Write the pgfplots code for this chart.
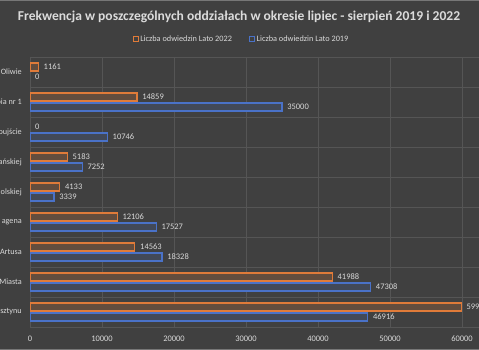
\documentclass[border=0pt]{standalone}
\usepackage{pgfplots}
\pgfplotsset{compat=1.18}
\usepackage{fontspec}
\setmainfont{Carlito}
\definecolor{bg}{HTML}{404040}
\definecolor{gridc}{HTML}{555555}
\definecolor{txt}{HTML}{D9D9D9}
\definecolor{orc}{HTML}{E07B39}
\definecolor{blc}{HTML}{4A72C8}
\begin{document}
\begin{tikzpicture}
\useasboundingbox (-30bp,-23bp) rectangle (449bp,327bp);
\fill[bg] (-30bp,-23bp) rectangle (449bp,327bp);
\draw[gridc!80!white, line width=0.8pt] (-30bp,326.6bp) -- (449bp,326.6bp);
\draw[gridc!80!white, line width=0.8pt] (-30bp,-22.6bp) -- (449bp,-22.6bp);
\clip (-30bp,-23bp) rectangle (449bp,327bp);
\node[font=\bfseries\fontsize{13.6}{15}\selectfont, text=txt!95!white] at (209bp,310bp) {Frekwencja w poszczególnych oddziałach w okresie lipiec - sierpień 2019 i 2022};
\begin{axis}[
  scale only axis, width=504bp, height=270bp,
  xbar, bar width=8bp,
  xmin=0, xmax=70000,
  ymin=-0.5, ymax=8.5, y dir=reverse,
  ytick={0,...,8},
  yticklabels={Oliwie, bia nr 1, oujście, ańskiej, olskiej, agena, Artusa, Miasta, sztynu},
  minor ytick={-0.5,0.5,...,8.5},
  yminorgrids=true, xmajorgrids=true,
  grid style={gridc, line width=0.7pt},
  minor grid style={gridc, line width=0.7pt},
  axis line style={draw=none},
  major tick style={draw=none}, minor tick style={draw=none},
  xtick={0,10000,...,60000},
  scaled x ticks=false,
  /pgf/number format/1000 sep={},
  /pgf/number format/assume math mode=true,
  ticklabel style={font=\fontsize{8.5}{10}\selectfont, text=txt},
  yticklabel style={font=\fontsize{8.2}{10}\selectfont, xshift=-0.5bp},
  xticklabel style={yshift=-5bp},
  point meta=x,
  nodes near coords,
  nodes near coords style={font=\fontsize{8.5}{10}\selectfont, text=txt, anchor=west, xshift=1.5bp},
  legend style={at={(0.4196,1.0667)}, anchor=center, draw=none, fill=none,
    font=\fontsize{8.3}{10}\selectfont, text=txt, legend columns=2,
    /tikz/every even column/.append style={column sep=15bp}},
  legend image code/.code={\draw[#1, line width=0.7pt, fill=none] (0bp,-2.5bp) rectangle (5bp,2.5bp);},
]
\addplot[draw=orc, line width=1.1pt, fill=orc!22!bg, bar shift=5bp] coordinates {
 (1161,0) (14859,1) (5183,3) (4133,4) (12106,5) (14563,6) (41988,7) (59900,8)};
\addlegendentry{Liczba odwiedzin Lato 2022}
\addplot[draw=blc, line width=1.1pt, fill=blc!18!bg, bar shift=-5bp] coordinates {
 (35000,1) (10746,2) (7252,3) (3339,4) (17527,5) (18328,6) (47308,7) (46916,8)};
\addlegendentry{Liczba odwiedzin Lato 2019}
\addplot[draw=none, fill=none, bar shift=5bp, forget plot] coordinates {(0,2)};
\addplot[draw=none, fill=none, bar shift=-5bp, forget plot] coordinates {(0,0)};
\end{axis}
\end{tikzpicture}
\end{document}
